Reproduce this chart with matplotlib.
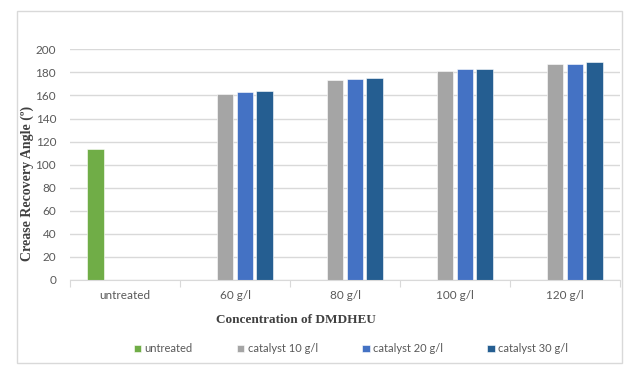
import matplotlib
matplotlib.use("Agg")
import matplotlib.pyplot as plt
from matplotlib.patches import Rectangle
import numpy as np

categories = ["untreated", "60 g/l", "80 g/l", "100 g/l", "120 g/l"]
series_names = ["untreated", "catalyst 10 g/l", "catalyst 20 g/l", "catalyst 30 g/l"]
untreated = [114, 0, 0, 0, 0]
catalyst10 = [0, 161, 173, 181, 187]
catalyst20 = [0, 163, 174, 183, 187]
catalyst30 = [0, 164, 175, 183, 189]
colors = ["#70AD47", "#A5A5A5", "#4472C4", "#255E91"]

W, H = 633, 380
fig = plt.figure(figsize=(W / 100, H / 100), dpi=100)
fig.patch.set_facecolor("white")
fig.add_artist(Rectangle((17 / W, 1 - 363 / H), (622 - 17) / W, (363 - 11) / H,
                         transform=fig.transFigure, fill=False, edgecolor="#D9D9D9", lw=1))

ax = fig.add_axes([70 / W, 1 - 280 / H, 550 / W, (280 - 49.3) / H])
x = np.arange(len(categories))
slot = 0.178
bw = 0.148
all_series = [untreated, catalyst10, catalyst20, catalyst30]
handles = []
for i, (vals, name, c) in enumerate(zip(all_series, series_names, colors)):
    xs = [xx + (i - 1.5) * slot for xx, v in zip(x, vals) if v > 0]
    vs = [v for v in vals if v > 0]
    h = ax.bar(xs, vs, width=bw, color=c, edgecolor="white", linewidth=0.4, label=name, zorder=3)
    handles.append(h)

ax.set_xlim(-0.5, len(categories) - 0.5)
ax.set_ylim(0, 200)
ax.set_yticks(np.arange(0, 201, 20))
ax.yaxis.grid(True, color="#D9D9D9", lw=1, zorder=0)
for s in ["left", "right", "top"]:
    ax.spines[s].set_visible(False)
ax.spines["bottom"].set_color("#D9D9D9")
ax.spines["bottom"].set_zorder(4)
ax.tick_params(axis="y", length=0, pad=10, labelsize=8.5, labelcolor="#595959")
ax.set_xticks(np.arange(-0.5, len(categories), 1.0))
ax.set_xticklabels([])
ax.set_xticks(x, minor=True)
ax.set_xticklabels(categories, minor=True)
ax.tick_params(axis="x", which="major", length=5, color="#D9D9D9", direction="out")
ax.tick_params(axis="x", which="minor", length=0, pad=7, labelsize=8.5, labelcolor="#595959")
for lab in ax.get_yticklabels() + ax.get_xticklabels(minor=True):
    lab.set_fontfamily("Lato")

fig.text(27 / W, 1 - 183 / H, "Crease Recovery Angle (º)", rotation=90, ha="center", va="center",
         fontsize=10, fontweight="bold", family="Liberation Serif", color="#404040")
fig.text(296 / W, 1 - 320 / H, "Concentration of DMDHEU", ha="center", va="center",
         fontsize=9.5, fontweight="bold", family="Liberation Serif", color="#404040")

leg = fig.legend(handles, series_names, loc="center", bbox_to_anchor=(351 / W, 1 - 349 / H),
                 ncol=4, frameon=False, handlelength=0.65, handleheight=0.65, handletextpad=0.3,
                 columnspacing=4.0, prop={"family": "Lato", "size": 8})
for t in leg.get_texts():
    t.set_color("#595959")

fig.savefig("out.png", dpi=100, facecolor="white")
